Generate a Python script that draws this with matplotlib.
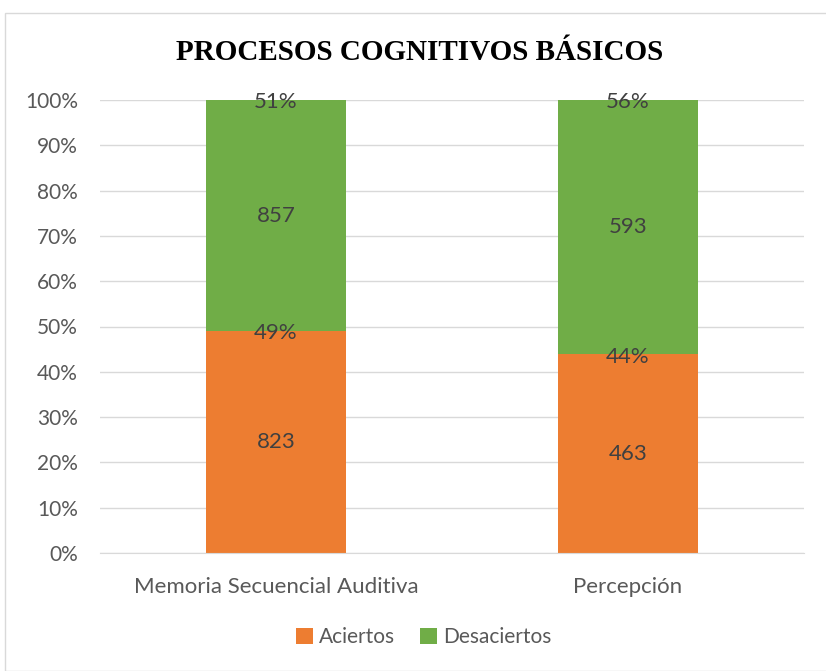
import matplotlib.pyplot as plt
import numpy as np

categorias = ["Memoria Secuencial Auditiva", "Percepción"]
aciertos = [823, 463]
desaciertos = [857, 593]
pct_aciertos = ["49%", "44%"]
pct_desaciertos = ["51%", "56%"]

naranja = "#ED7D31"
verde = "#70AD47"
gris = "#595959"
fuente = "Lato"

tot = np.array(aciertos) + np.array(desaciertos)
a = np.array(aciertos) / tot * 100
d = np.array(desaciertos) / tot * 100
x = np.arange(len(categorias))

fig = plt.figure(figsize=(8.26, 6.71), dpi=100)
ax = fig.add_axes([100 / 826, 1 - 553 / 671, 704 / 826, 453 / 671])

ax.bar(x, a, width=0.4, color=naranja, label="Aciertos", zorder=2)
ax.bar(x, d, width=0.4, bottom=a, color=verde, label="Desaciertos", zorder=2)
# linea fina encima (serie casi nula)
ax.bar(x, [0.35] * len(x), width=0.4, bottom=a + d, color="#B5835A", zorder=2)

for i in range(len(x)):
    ax.text(x[i], a[i] / 2, str(aciertos[i]), ha="center", va="center",
            fontsize=16, color="#404040", family=fuente, zorder=3)
    ax.text(x[i], a[i] + d[i] / 2, str(desaciertos[i]), ha="center", va="center",
            fontsize=16, color="#404040", family=fuente, zorder=3)
    ax.text(x[i], a[i] - 0.5, pct_aciertos[i], ha="center", va="center",
            fontsize=16, color="#404040", family=fuente, zorder=3)
    ax.text(x[i], 100 - 0.5, pct_desaciertos[i], ha="center", va="center",
            fontsize=16, color="#404040", family=fuente, zorder=3)

ax.set_xlim(-0.5, 1.5)
ax.set_ylim(0, 100)
ax.set_yticks(np.arange(0, 101, 10))
ax.set_yticklabels([f"{v}%" for v in range(0, 101, 10)])
ax.set_xticks(x)
ax.set_xticklabels(categorias)
ax.tick_params(length=0, labelsize=15, colors=gris)
ax.tick_params(axis="y", pad=16)
ax.tick_params(axis="x", pad=17, labelsize=16)
for lab in ax.get_xticklabels() + ax.get_yticklabels():
    lab.set_family(fuente)
ax.grid(axis="y", color="#D9D9D9", linewidth=1, zorder=0)
for s in ["top", "right", "left"]:
    ax.spines[s].set_visible(False)
ax.spines["bottom"].set_color("#D9D9D9")

fig.text(420 / 826, 1 - 52 / 671, "PROCESOS COGNITIVOS BÁSICOS", ha="center", va="center",
         fontsize=21, fontweight="bold", family="Liberation Serif")

leg = fig.legend(loc="center", bbox_to_anchor=(424 / 826, 1 - 637 / 671), ncol=2,
                 frameon=False, handlelength=0.8, handleheight=0.8, handletextpad=0.3,
                 columnspacing=1.2, prop={"family": fuente, "size": 15})
for t in leg.get_texts():
    t.set_color(gris)

# marco exterior
fig.patches.append(plt.Rectangle((5 / 826, 0), 1, 1 - 13 / 671, transform=fig.transFigure,
                                 fill=False, edgecolor="#D9D9D9", linewidth=1))

fig.savefig("out.png", dpi=100)
